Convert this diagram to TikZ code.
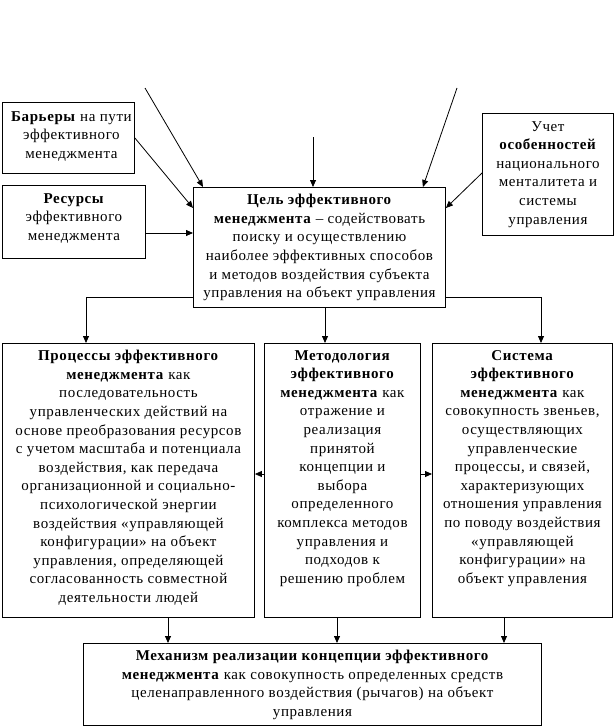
\documentclass[tikz,border=0pt]{standalone}
\usepackage{fontspec}
\setmainfont[LetterSpace=4]{Liberation Serif}
\usetikzlibrary{arrows.meta,calc}
\tikzset{
  box/.style={draw, line width=0.9pt, anchor=north west, inner sep=0pt},
  txt/.style={align=center, inner sep=0pt, anchor=north, font=\fontsize{15}{18.6}\selectfont},
  arr/.style={line width=0.8pt, -{Triangle[length=7pt,width=6pt]}},
  ln/.style={line width=0.8pt}
}
\begin{document}
\begin{tikzpicture}[x=1pt,y=-1pt]
\useasboundingbox (0,0) rectangle (614,728);
% boxes
\node[box, minimum width=132pt, minimum height=71pt] (bar) at (2,102) {};
\node[box, minimum width=143pt, minimum height=73pt] (res) at (2,185) {};
\node[box, minimum width=252pt, minimum height=120pt] (goal) at (193,187) {};
\node[box, minimum width=131pt, minimum height=122pt] (uch) at (482,113) {};
\node[box, minimum width=252pt, minimum height=274pt] (proc) at (2,343) {};
\node[box, minimum width=156pt, minimum height=274pt] (meth) at (264,343) {};
\node[box, minimum width=180pt, minimum height=274pt] (sys) at (432,343) {};
\node[box, minimum width=458pt, minimum height=82pt] (mech) at (83,643) {};
% texts
\node[txt] (bart) at ($(bar.north)+(3,9)$) {\textbf{Барьеры} на пути\\эффективного\\менеджмента};
\node[txt] (rest) at ($(res.north)+(0,8)$) {\textbf{Ресурсы}\\эффективного\\менеджмента};
\node[txt] (goalt) at ($(goal.north)+(0,7)$) {\textbf{Цель эффективного}\\\textbf{менеджмента} – содействовать\\поиску и осуществлению\\наиболее эффективных способов\\и методов воздействия субъекта\\управления на объект управления};
\node[txt] (ucht) at ($(uch.north)+(0,8)$) {Учет\\\textbf{особенностей}\\национального\\менталитета и\\системы\\управления};
\node[txt] (proct) at ($(proc.north)+(0,7)$) {\textbf{Процессы эффективного}\\\textbf{менеджмента} как\\последовательность\\управленческих действий на\\основе преобразования ресурсов\\с учетом масштаба и потенциала\\воздействия, как передача\\организационной и социально-\\психологической энергии\\воздействия «управляющей\\конфигурации» на объект\\управления, определяющей\\согласованность совместной\\деятельности людей};
\node[txt] (metht) at ($(meth.north)+(0,7)$) {\textbf{Методология}\\\textbf{эффективного}\\\textbf{менеджмента} как\\отражение и\\реализация\\принятой\\концепции и\\выбора\\определенного\\комплекса методов\\управления и\\подходов к\\решению проблем};
\node[txt] (syst) at ($(sys.north)+(0,7)$) {\textbf{Система}\\\textbf{эффективного}\\\textbf{менеджмента} как\\совокупность звеньев,\\осуществляющих\\управленческие\\процессы, и связей,\\характеризующих\\отношения управления\\по поводу воздействия\\«управляющей\\конфигурации» на\\объект управления};
\node[txt] (mecht) at ($(mech.north)+(0,7)$) {\textbf{Механизм реализации концепции эффективного}\\\textbf{менеджмента} как совокупность определенных средств\\целенаправленного воздействия (рычагов) на объект\\управления};
% free ends
\coordinate (c1) at (145,88);
\coordinate (c2) at (313,137);
\coordinate (c3) at (457,88);
% connectors into goal
\draw[arr] (c1) -- ($(goal.north west)+(10,0)$);
\draw[arr] ($(bar.north east)+(0,36)$) -- ($(goal.north west)+(0,21)$);
\draw[arr] ($(res.north east)+(0,48)$) -- ($(goal.north west)+(0,46)$);
\draw[arr] (c2) -- ($(goal.north west)+(120,0)$);
\draw[arr] (c3) -- ($(goal.north east)+(-23,0)$);
\draw[arr] ($(uch.north west)+(0,60)$) -- ($(goal.north east)+(0,21)$);
% goal to lower boxes
\draw[arr] ($(goal.south west)+(0,-11)$) -| ($(proc.north west)+(84,0)$);
\draw[arr] ($(goal.south west)+(132,0)$) -- ($(meth.north west)+(61,0)$);
\draw[arr] ($(goal.south east)+(0,-11)$) -| ($(sys.north west)+(109,0)$);
% methodology sideways
\draw[arr] ($(meth.north west)+(0,131)$) -- ($(proc.north east)+(0,131)$);
\draw[arr] ($(meth.north east)+(0,131)$) -- ($(sys.north west)+(0,131)$);
% to mechanism
\draw[arr] ($(proc.south west)+(166,0)$) -- ($(mech.north west)+(85,0)$);
\draw[arr] ($(meth.south west)+(73,0)$) -- ($(mech.north west)+(254,0)$);
\draw[arr] ($(sys.south west)+(72,0)$) -- ($(mech.north west)+(421,0)$);
\end{tikzpicture}
\end{document}
